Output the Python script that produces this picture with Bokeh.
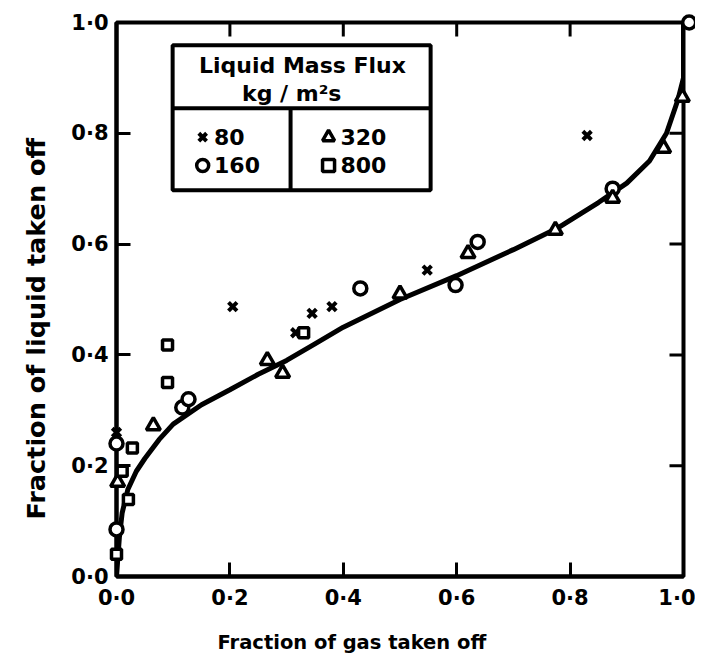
from bokeh.plotting import figure
from bokeh.models import Range1d, FixedTicker, Title
from bokeh.core.properties import value
from bokeh.embed import file_html
from bokeh.resources import INLINE

# ---- data ----
tick_values = [0.0, 0.2, 0.4, 0.6, 0.8, 1.0]
tick_labels = ["0·0", "0·2", "0·4", "0·6", "0·8", "1·0"]

x80 = [0.0, 0.205, 0.316, 0.345, 0.38, 0.548, 0.83, 1.03]
y80 = [0.26, 0.487, 0.44, 0.475, 0.487, 0.553, 0.796, 0.796]

x160 = [0.0, 0.0, 0.116, 0.127, 0.43, 0.598, 0.637, 0.875, 1.01]
y160 = [0.085, 0.24, 0.305, 0.32, 0.52, 0.526, 0.604, 0.70, 1.0]

x320 = [0.002, 0.065, 0.266, 0.293, 0.50, 0.62, 0.774, 0.875, 0.965, 0.998]
y320 = [0.17, 0.272, 0.39, 0.367, 0.51, 0.583, 0.625, 0.683, 0.773, 0.865]

x800 = [0.0, 0.021, 0.01, 0.028, 0.09, 0.09, 0.33]
y800 = [0.04, 0.139, 0.19, 0.232, 0.35, 0.418, 0.44]

curve_x = [0.0, 0.005, 0.01, 0.02, 0.035, 0.05, 0.075, 0.1, 0.15, 0.2, 0.25, 0.3, 0.35,
           0.4, 0.5, 0.6, 0.7, 0.78, 0.85, 0.9, 0.94, 0.97, 0.99, 1.0, 1.0]
curve_y = [0.0, 0.07, 0.115, 0.157, 0.19, 0.213, 0.247, 0.275, 0.31, 0.337, 0.365, 0.39, 0.42,
           0.45, 0.5, 0.543, 0.59, 0.63, 0.675, 0.71, 0.75, 0.8, 0.86, 0.9, 1.0]

x_title = "Fraction of gas taken off"
y_title = "Fraction of liquid taken off"
legend_title = ["Liquid Mass Flux", "kg / m²s"]
legend_labels = ["80", "160", "320", "800"]
legend_markers = ["x", "circle", "triangle", "square"]

FONT = "DejaVu Sans"

p = figure(width=695, height=670, output_backend="svg", toolbar_location=None,
           x_range=Range1d(0, 1), y_range=Range1d(0, 1),
           min_border_left=116, min_border_top=22, min_border_right=12, min_border_bottom=93)
p.grid.visible = False
p.outline_line_color = "black"
p.outline_line_width = 4
p.background_fill_color = "white"
p.border_fill_color = "white"

overrides = {v: l for v, l in zip(tick_values, tick_labels)}

for ax in (p.xaxis[0], p.yaxis[0]):
    ax.ticker = FixedTicker(ticks=tick_values)
    ax.major_label_overrides = overrides
    ax.axis_line_width = 4
    ax.major_tick_line_width = 3
    ax.major_tick_in = 14
    ax.major_tick_out = 0
    ax.minor_tick_line_color = None
    ax.major_label_text_font = FONT
    ax.major_label_text_font_style = "bold"
    ax.major_label_text_font_size = "21px"
    ax.major_label_text_color = "black"

p.xaxis[0].major_label_standoff = 9
p.yaxis[0].major_label_standoff = 8

# axis titles placed like the reference (off-centre)
p.add_layout(Title(text=x_title, align="left", offset=101, standoff=33,
                   text_font=FONT, text_font_style="bold", text_font_size="19.5px",
                   text_color="black"), "below")
p.add_layout(Title(text=y_title, align="left", offset=57, standoff=36,
                   text_font=FONT, text_font_style="bold", text_font_size="25.5px",
                   text_color="black"), "left")

# inward ticks on top and right sides (derived from tick values)
dx = 14 / 567
dy = 14 / 555
inner = tick_values[1:-1]
p.segment(x0=[1.0 - dx] * len(inner), y0=inner, x1=[1.0] * len(inner), y1=inner,
          line_color="black", line_width=3)
p.segment(x0=inner, y0=[1.0 - dy] * len(inner), x1=inner, y1=[1.0] * len(inner),
          line_color="black", line_width=3)

# curve
p.line(curve_x, curve_y, line_color="black", line_width=5)

# data points
sty = dict(line_color="black", line_width=3.5, fill_color="white")
rs = [
    p.scatter(x80, y80, marker="x", size=12, line_color="black", line_width=4),
    p.scatter(x160, y160, marker="circle", size=13, **sty),
    p.scatter(x320, y320, marker="triangle", size=14, **sty),
    p.scatter(x800, y800, marker="square", size=10, **sty),
]
for r in rs:
    r.level = "overlay"

# legend table (boxed key)
bx0, bx1, by0, by1 = 0.099, 0.554, 0.697, 0.959
p.quad(left=[bx0], right=[bx1], bottom=[by0], top=[by1], fill_color="white",
       line_color="black", line_width=4)
p.segment(x0=[bx0, 0.307], y0=[0.845, by0], x1=[bx1, 0.307], y1=[0.845, 0.845],
          line_color="black", line_width=4)
p.text(x=[0.328, 0.309], y=[0.922, 0.872], text=legend_title,
       text_font=value(FONT), text_font_style="bold", text_font_size="22px",
       text_align="center", text_baseline="middle", text_color="black")
mx = [0.152, 0.152, 0.374, 0.374]
my = [0.793, 0.742, 0.793, 0.742]
for m, xx, yy in zip(legend_markers, mx, my):
    if m == "x":
        p.scatter([xx], [yy], marker=m, size=11, line_color="black", line_width=4)
    else:
        p.scatter([xx], [yy], marker=m, size=12, line_color="black", line_width=3.5,
                  fill_color="white")
p.text(x=[0.172, 0.172, 0.395, 0.395], y=my, text=legend_labels,
       text_font=value(FONT), text_font_style="bold", text_font_size="22px",
       text_align="left", text_baseline="middle", text_color="black")

open("out.html", "w").write(file_html(p, INLINE))
